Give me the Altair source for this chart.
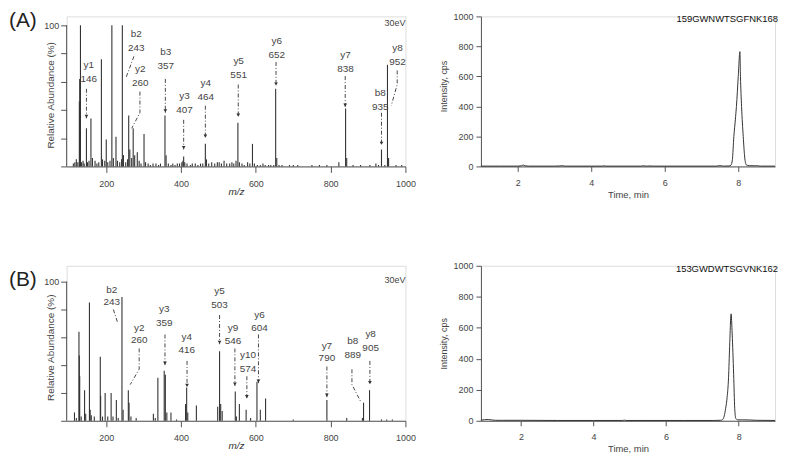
import altair as alt
import pandas as pd

FONT = "Liberation Sans"
INK = "#333333"
AXC = "#555555"

# ---------------- data ----------------
# Panel A MS/MS spectrum (m/z, relative abundance %)
specA_mz = [112, 116, 120, 124, 128, 129, 131, 134, 138, 141, 147, 150, 154, 159, 163, 170, 175, 180,
            187, 190, 196, 200, 204, 210, 215, 219, 226, 230, 236, 241, 243, 246, 252, 257, 260, 263,
            268, 272, 276, 283, 288, 293, 301, 305, 312, 318, 325, 333, 340, 345, 357, 360, 366, 373,
            378, 384, 390, 396, 402, 405, 407, 410, 416, 425, 430, 438, 445, 452, 458, 465, 468, 474,
            482, 490, 497, 502, 508, 515, 522, 530, 536, 541, 547, 552, 556, 563, 569, 578, 584, 591,
            596, 604, 612, 619, 625, 634, 640, 648, 653, 656, 662, 670, 690, 700, 712, 750, 770, 790,
            822, 840, 843, 860, 880, 905, 921, 928, 936, 945, 952, 955, 975, 990]
specA_int = [2, 3, 5, 3, 46, 62, 100, 3, 4, 2, 27, 3, 4, 34, 6, 4, 2, 3,
             76, 5, 4, 19, 3, 4, 100, 6, 21, 4, 3, 5, 100, 8, 3, 5, 36, 12,
             6, 27, 8, 10, 4, 2, 23, 3, 2, 1, 2, 2, 1, 2, 36, 8, 2, 1,
             2, 1, 2, 2, 3, 4, 7, 3, 2, 1, 2, 2, 1, 2, 2, 16, 5, 2,
             3, 2, 3, 3, 2, 4, 2, 2, 3, 2, 4, 31, 3, 2, 1, 3, 2, 16,
             2, 1, 1, 2, 1, 1, 1, 1, 55, 6, 1, 1, 1, 1, 1, 1, 1, 1,
             3, 41, 6, 1, 1, 1, 2, 1, 12, 1, 72, 6, 1, 1]

# Panel B MS/MS spectrum
specB_mz = [115, 120, 127, 128, 129, 133, 142, 145, 155, 157, 160, 168, 184, 185, 190, 197, 204, 213,
            218, 227, 232, 242, 245, 259, 261, 266, 280, 326, 331, 338, 355, 358, 362, 373, 388, 412,
            415, 418, 441, 498, 503, 506, 510, 545, 548, 556, 574, 586, 603, 612, 626, 700, 790, 843,
            885, 888, 904, 936, 950, 965]
specB_int = [6, 2, 64, 47, 32, 3, 22, 5, 85, 8, 4, 3, 46, 18, 3, 20, 3, 20,
             3, 15, 2, 89, 8, 22, 13, 3, 2, 5, 2, 31, 36, 33, 6, 6, 1, 12,
             24, 6, 11, 10, 50, 12, 7, 21, 3, 12, 8, 2, 28, 8, 16, 1, 15, 2,
             2, 13, 22, 1, 1, 1]

# Fragment annotations: ion name, m/z text, label position (m/z, abundance of the two lines)
annA_ion = ["y1", "b2", "y2", "b3", "y3", "y4", "y5", "y6", "y7", "b8", "y8"]
annA_txt = ["146", "243", "260", "357", "407", "464", "551", "652", "838", "935", "952"]
annA_lx = [153, 280, 291, 359, 409, 466, 554, 656, 840, 933, 979]
annA_ly1 = [72, 94, 69, 81, 50, 59, 75, 89, 79, 52, 84]
annA_ly2 = [62, 84, 59, 71, 40, 49, 65, 79, 69, 42, 74]
annA_arrows = [[(147, 55), (147, 34)],
               [(274, 78), (253, 63)],
               [(290, 53), (290, 38), (268, 27)],
               [(358, 62), (358, 38)],
               [(407, 33), (407, 12)],
               [(465, 43), (465, 20)],
               [(553, 58), (553, 35)],
               [(654, 74), (654, 57)],
               [(839, 64), (839, 42)],
               [(936, 38), (936, 15)],
               [(978, 68), (978, 58), (962, 43)]]
annA_head = [True, False, False, True, True, True, True, True, True, True, False]

annB_ion = ["b2", "y2", "y3", "y4", "y5", "y9", "y10", "y6", "y7", "b8", "y8"]
annB_txt = ["243", "260", "359", "416", "503", "546", "574", "604", "790", "889", "905"]
annB_lx = [215, 288, 355, 415, 503, 539, 579, 610, 790, 859, 907]
annB_ly1 = [94, 67, 80, 60, 93, 67, 47, 76, 54, 57, 62]
annB_ly2 = [85, 58, 70, 51, 83, 57, 37, 67, 45, 47, 52]
annB_arrows = [[(219, 80), (231, 70)],
               [(288, 52), (288, 37), (264, 26)],
               [(357, 62), (357, 40)],
               [(416, 43), (416, 24)],
               [(503, 76), (503, 55)],
               [(544, 52), (544, 25)],
               [(576, 32), (576, 16)],
               [(607, 62), (607, 27)],
               [(790, 39), (790, 17)],
               [(857, 37), (857, 26), (880, 14)],
               [(905, 43), (905, 26)]]
annB_head = [False, False, True, True, True, True, True, True, True, False, True]

# XIC chromatograms (time min, intensity cps)
chromA_t = [1.0, 1.5, 2.0, 2.1, 2.15, 2.2, 2.3, 3.0, 3.15, 3.2, 3.3, 4.0, 4.3, 4.35, 4.4, 5.0, 5.35,
            5.4, 5.5, 5.6, 5.7, 6.5, 7.4, 7.5, 7.6, 7.75, 7.8, 7.84, 7.88, 7.92, 7.95, 8.0, 8.045,
            8.06, 8.09, 8.135, 8.18, 8.22, 8.3, 8.45, 8.5, 8.6, 9.0]
chromA_i = [2, 2, 2, 4, 9, 4, 2, 2, 3, 5, 2, 2, 2, 4, 2, 2, 2,
            4, 2, 3, 2, 2, 2, 5, 2, 3, 8, 45, 200, 310, 400, 600, 765,
            600, 400, 200, 50, 10, 5, 4, 5, 2, 2]
chromB_t = [0.9, 1.0, 1.1, 1.2, 1.3, 1.5, 2.0, 3.0, 4.0, 4.8, 4.85, 4.9, 5.5, 6.5, 7.3, 7.5, 7.55,
            7.6, 7.64, 7.68, 7.72, 7.75, 7.79, 7.82, 7.86, 7.89, 7.92, 7.97, 8.1, 8.3, 8.5, 9.0]
chromB_i = [4, 7, 8, 5, 3, 3, 3, 2, 2, 2, 4, 2, 2, 2, 2, 3, 6,
            30, 80, 150, 280, 480, 690, 560, 300, 80, 15, 6, 6, 5, 3, 2]

panel_labels = ["(A)", "(B)"]
peptides = ["159GWNWTSGFNK168", "153GWDWTSGVNK162"]
energy = "30eV"
mz_ticks = [200, 400, 600, 800, 1000]
ab_ticks = [0, 20, 40, 60, 80, 100]
t_ticks = [2, 4, 6, 8]
i_ticks = [0, 200, 400, 600, 800, 1000]


# ---------------- builders ----------------
def spectrum(mz, ab, ion, txt, lx, ly1, ly2, arrows, heads, label, width, height, ytop,
             title_y, label_y):
    peaks = pd.DataFrame({"mz": mz, "ab": ab, "z": 0})
    lab1 = pd.DataFrame({"mz": lx, "ab": ly1, "t": ion})
    lab2 = pd.DataFrame({"mz": lx, "ab": ly2, "t": txt})
    rows = []
    for k, pts in enumerate(arrows):
        for j, (px, py) in enumerate(pts):
            rows.append({"id": k, "o": j, "mz": px, "ab": py})
    arr = pd.DataFrame(rows)
    hd = pd.DataFrame([{"mz": pts[-1][0], "ab": pts[-1][1]}
                       for pts, h in zip(arrows, heads) if h])
    axis_line = pd.DataFrame({"mz": [94], "ab": [100], "z": [0]})
    ev_df = pd.DataFrame({"mz": [1000], "ab": [101.5], "t": [energy]})

    xs = alt.Scale(domain=[94, 1000], nice=False, zero=False)
    ys = alt.Scale(domain=[0, ytop], nice=False)
    xax = alt.Axis(values=mz_ticks, tickCount=len(mz_ticks), format="d", title="m/z",
                   titleFontStyle="italic", titleFontWeight="normal", titleFontSize=10,
                   titleColor=INK, titleY=25, titleBaseline="middle", labelFontSize=9,
                   labelColor="#444", labelPadding=7, tickSize=6, tickColor=AXC,
                   domainColor=AXC, grid=False, labelFlush=False)
    yax = alt.Axis(values=ab_ticks, tickCount=len(ab_ticks),
                   labelExpr="datum.value === 100 ? '100' : ''",
                   title="Relative Abundance (%)", titleFontWeight="normal", titleFontSize=10,
                   titleColor="#444", titleX=-16, titleY=title_y, titleBaseline="middle",
                   labelFontSize=9, labelColor="#444", labelPadding=2, tickSize=6,
                   tickColor=AXC, domain=False, grid=False, labelFlush=False, labelOverlap=False)

    X = alt.X("mz:Q", scale=xs, axis=xax)
    Y = alt.Y("ab:Q", scale=ys, axis=yax)

    bars = alt.Chart(peaks).mark_rule(color=INK, strokeWidth=1.1).encode(x=X, y=Y, y2="z:Q")
    yline = alt.Chart(axis_line).mark_rule(color=AXC, strokeWidth=1).encode(
        x="mz:Q", y="ab:Q", y2="z:Q")
    lines = alt.Chart(arr).mark_line(color=INK, strokeWidth=0.9, strokeDash=[4, 2, 1, 2]).encode(
        x="mz:Q", y="ab:Q", detail="id:N", order="o:Q")
    heads_l = alt.Chart(hd).mark_point(shape="triangle-down", filled=True, color=INK, size=14,
                                       opacity=1, yOffset=-2).encode(x="mz:Q", y="ab:Q")
    t1 = alt.Chart(lab1).mark_text(font=FONT, fontSize=10, color="#444", baseline="middle").encode(
        x="mz:Q", y="ab:Q", text="t:N")
    t2 = alt.Chart(lab2).mark_text(font=FONT, fontSize=10, color="#444", baseline="middle").encode(
        x="mz:Q", y="ab:Q", text="t:N")
    ev = alt.Chart(ev_df).mark_text(font=FONT, fontSize=9, color="#444", align="right",
                                    baseline="middle").encode(x="mz:Q", y="ab:Q", text="t:N")
    pl = alt.Chart(pd.DataFrame({"t": [label]})).mark_text(
        font=FONT, fontSize=21, color="#222", align="left", baseline="middle").encode(
        x=alt.value(-58), y=alt.value(label_y), text="t:N")
    return alt.layer(bars, yline, lines, heads_l, t1, t2, ev, pl).properties(
        width=width, height=height)


def chrom(t, i, dom, pep, width, height, title_y):
    df = pd.DataFrame({"t": t, "i": i})
    xax = alt.Axis(values=t_ticks, tickCount=len(t_ticks), title="Time, min",
                   titleFontWeight="normal", titleFontSize=9.5, titleColor="#444", titleY=28,
                   titleBaseline="middle", labelFontSize=9, labelColor="#444", labelPadding=7,
                   tickSize=5, tickColor=AXC, domainColor=AXC, grid=False)
    yax = alt.Axis(values=i_ticks, tickCount=len(i_ticks), format="d", title="Intensity, cps",
                   titleFontWeight="normal", titleFontSize=9, titleColor="#444", titleX=-38,
                   titleY=title_y, titleBaseline="middle", labelFontSize=9, labelColor="#444",
                   labelPadding=3, tickSize=5, tickColor=AXC, domainColor=AXC, grid=False)
    line = alt.Chart(df).mark_line(color=INK, strokeWidth=1, interpolate="monotone").encode(
        x=alt.X("t:Q", scale=alt.Scale(domain=dom, nice=False, zero=False), axis=xax),
        y=alt.Y("i:Q", scale=alt.Scale(domain=[0, 1000], nice=False), axis=yax),
    )
    ttl = alt.Chart(pd.DataFrame({"p": [pep]})).mark_text(
        font=FONT, fontSize=9.5, color="#111", align="right", baseline="middle").encode(
        x=alt.value(width + 3), y=alt.value(3), text="p:N")
    return alt.layer(line, ttl).properties(width=width, height=height)


specA = spectrum(specA_mz, specA_int, annA_ion, annA_txt, annA_lx, annA_ly1, annA_ly2,
                 annA_arrows, annA_head, panel_labels[0], 341, 151, 106.3, 79, 5)
chromA = chrom(chromA_t, chromA_i, [1, 9], peptides[0], 296, 151, 70)
specB = spectrum(specB_mz, specB_int, annB_ion, annB_txt, annB_lx, annB_ly1, annB_ly2,
                 annB_arrows, annB_head, panel_labels[1], 341, 156, 111.4, 82, 14)
chromB = chrom(chromB_t, chromB_i, [0.9, 9], peptides[1], 296, 156, 78)

chart = alt.concat(specA, chromA, specB, chromB, columns=2,
                   spacing={"row": 100, "column": 76}, bounds="flush", align="each").properties(
    padding=0
).configure_view(stroke=None).configure_axis(labelFont=FONT, titleFont=FONT).configure(
    background="white")

chart.save("out.html", embed_options={"renderer": "svg", "actions": False})
